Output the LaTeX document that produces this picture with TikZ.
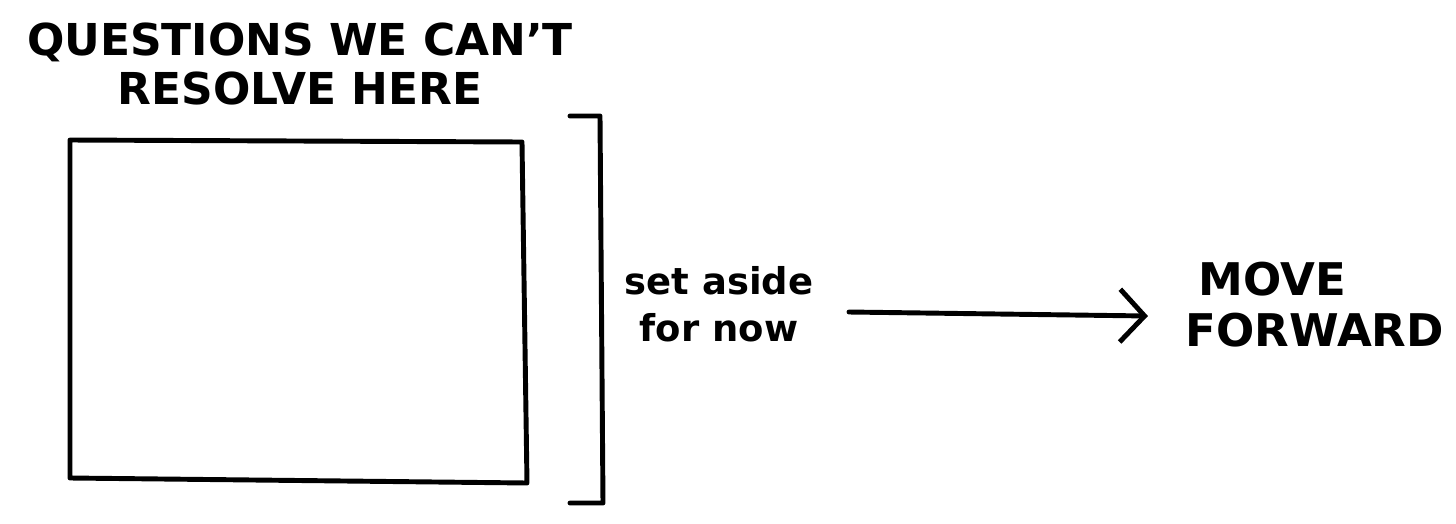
\documentclass[tikz,border=0pt]{standalone}
\usepackage{fontspec}
\setmainfont{DejaVu Sans}
\usepackage{tikz}
\usetikzlibrary{positioning,arrows.meta}

\begin{document}
\begin{tikzpicture}[
    x=0.01cm, y=-0.01cm,
    caption/.style={font=\bfseries\fontsize{12.5}{14}\selectfont, align=center, inner sep=0pt},
    note/.style={font=\bfseries\fontsize{10.5}{13.5}\selectfont, align=center, inner sep=0pt},
    outcome/.style={font=\bfseries\fontsize{12.8}{14.5}\selectfont, align=left, inner sep=0pt},
    stroke/.style={line width=1.4pt, line cap=round, line join=round},
    line/.style={stroke, -{Straight Barb[length=7pt, width=15pt, line width=1.4pt]}}
]
\useasboundingbox (0,0) rectangle (1456,524);

% Parking area
\node[caption] (title) at (300,64) {QUESTIONS WE CAN'T\\RESOLVE HERE};
\draw[stroke] (70,140) coordinate (boxtl) -- (522,142) -- (527,483) -- (70,478) -- cycle;

% Bracket
\draw[stroke] (570,116) coordinate (brtop) -- (600,116) -- (603,503) -- (570,503) coordinate (brbot);

% Outcome
\node[note] (aside) at (719,304) {set aside\\for now};
\node[outcome, anchor=west] (forward) at (1185,305) {\hspace*{9\pgflinewidth}MOVE\\FORWARD};
\draw[line] ([xshift=0.35cm, yshift=-0.08cm]aside.east) -- ([xshift=-0.37cm, yshift=-0.11cm]forward.west);

\end{tikzpicture}
\end{document}
